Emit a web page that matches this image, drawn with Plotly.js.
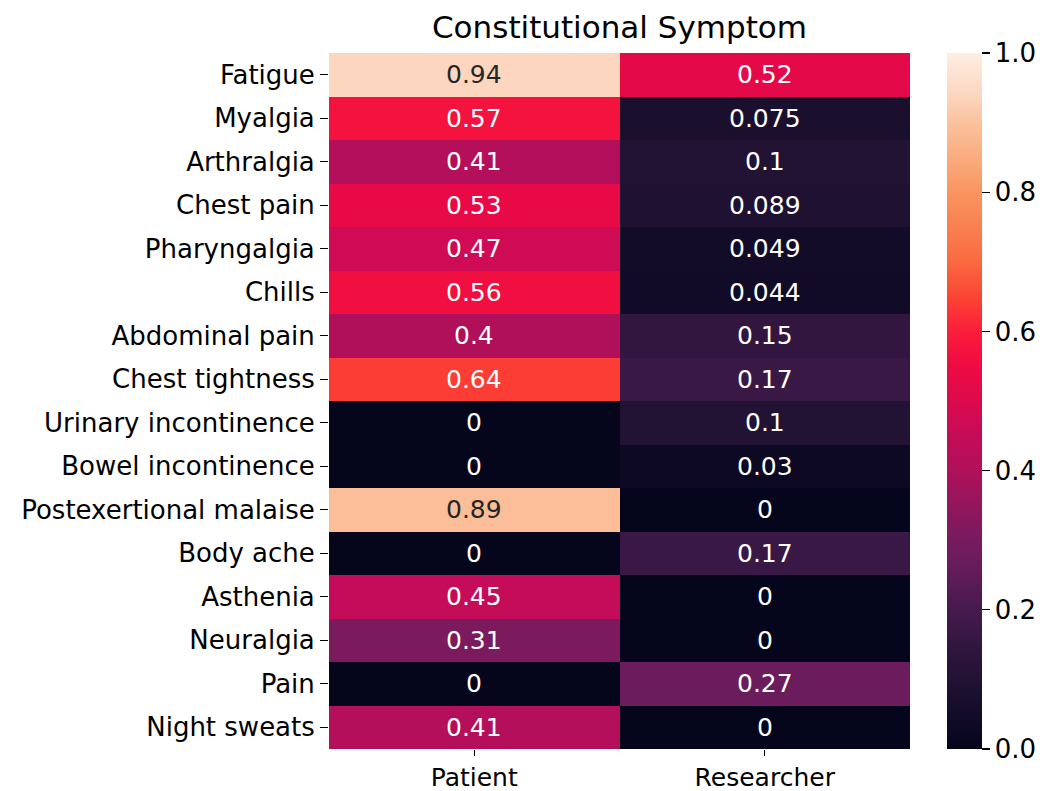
<!DOCTYPE html>
<html><head><meta charset="utf-8">
<script src="https://cdn.plot.ly/plotly-3.0.1.min.js"></script>
<style>body{margin:0;background:#fff}#c{width:1045px;height:791px}</style>
</head><body><div id="c"></div>
<script>
const symptoms = ["Fatigue","Myalgia","Arthralgia","Chest pain","Pharyngalgia","Chills","Abdominal pain","Chest tightness","Urinary incontinence","Bowel incontinence","Postexertional malaise","Body ache","Asthenia","Neuralgia","Pain","Night sweats"];
const groups = ["Patient","Researcher"];
const patient = [0.94,0.57,0.41,0.53,0.47,0.56,0.4,0.64,0,0,0.89,0,0.45,0.31,0,0.41];
const researcher = [0.52,0.075,0.1,0.089,0.049,0.044,0.15,0.17,0.1,0.03,0,0.17,0,0,0.27,0];
const colorbarTicks = [0,0.2,0.4,0.6,0.8,1.0];

const rocket = [
 [0.0,"#05051c"],[0.05,"#130c28"],[0.1,"#221234"],[0.15,"#32163f"],[0.2,"#461a4d"],
 [0.27,"#6a1c5c"],[0.31,"#7c1a5e"],[0.4,"#b0105a"],[0.45,"#c40c58"],[0.5,"#dc0a4e"],
 [0.55,"#ef0a42"],[0.6,"#fb1e3a"],[0.65,"#fb4534"],[0.7,"#fa6a40"],[0.8,"#f99560"],
 [0.9,"#fbc29e"],[0.95,"#fcdbc6"],[1.0,"#fdeee2"]
];

const z = symptoms.map((s,i)=>[patient[i],researcher[i]]);
const fmt = v => String(Number(v.toPrecision(2)));
const annotations = [];
symptoms.forEach((s,i)=>{
  [patient[i],researcher[i]].forEach((v,j)=>{
    annotations.push({x:groups[j],y:s,text:fmt(v),showarrow:false,
      font:{family:"DejaVu Sans",size:25,color:v>0.75?"#262626":"#ffffff"}});
  });
});

const tf = {family:"DejaVu Sans",size:26,color:"#000"};
const trace = {type:"heatmap",x:groups,y:symptoms,z:z,zmin:0,zmax:1,colorscale:rocket,
  xgap:0,ygap:0,hoverinfo:"skip",
  colorbar:{x:(947-329)/581,xanchor:"left",xref:"paper",thickness:35,thicknessmode:"pixels",len:1,lenmode:"fraction",
    y:0,yanchor:"bottom",ypad:0,xpad:0,outlinewidth:0,ticks:"outside",ticklen:8,tickwidth:1.3,tickcolor:"#000",
    tickvals:colorbarTicks,ticktext:colorbarTicks.map(v=>v.toFixed(1)),tickfont:tf}};

const layout = {width:1045,height:791,margin:{l:329,r:135,t:53,b:42,autoexpand:false},
  paper_bgcolor:"#fff",plot_bgcolor:"#fff",
  title:{text:"Constitutional Symptom",font:{family:"DejaVu Sans",size:31,color:"#000"},
    xref:"paper",x:0.5,xanchor:"center",yref:"container",y:1-27/791,yanchor:"middle"},
  xaxis:{type:"category",ticks:"outside",ticklen:6,tickwidth:1.3,tickcolor:"#000",showgrid:false,zeroline:false,
    tickfont:{family:"DejaVu Sans",size:25,color:"#000"},showline:false,automargin:false},
  yaxis:{type:"category",autorange:"reversed",ticks:"outside",ticklen:8,tickwidth:1.3,tickcolor:"#000",showgrid:false,zeroline:false,
    tickfont:tf,showline:false,automargin:false},
  annotations:annotations};
Plotly.newPlot("c",[trace],layout,{displayModeBar:false,staticPlot:true});
</script></body></html>
